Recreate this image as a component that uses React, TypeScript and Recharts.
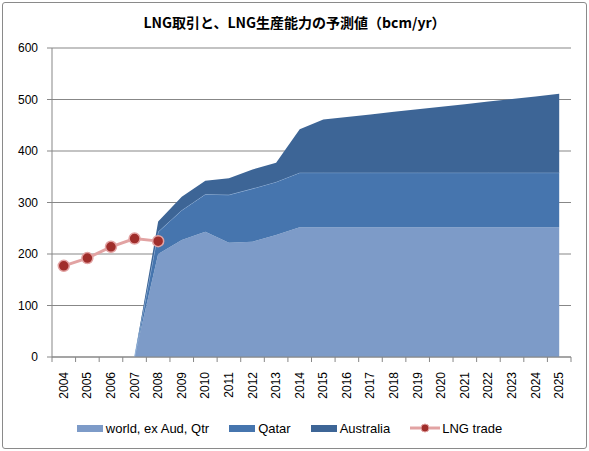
import React from "react";
import {
  ComposedChart,
  Area,
  Line,
  XAxis,
  YAxis,
  CartesianGrid,
  Legend,
} from "recharts";

const YEARS = [
  "2004", "2005", "2006", "2007", "2008", "2009", "2010", "2011", "2012", "2013", "2014",
  "2015", "2016", "2017", "2018", "2019", "2020", "2021", "2022", "2023", "2024", "2025",
];

// bcm/yr
const WORLD = [
  null, null, null, 0, 200, 227, 243, 222, 224, 237, 252,
  252, 252, 252, 252, 252, 252, 252, 252, 252, 252, 252,
];
const QATAR = [
  null, null, null, 0, 43, 58, 73, 93, 103, 103, 106,
  106, 106, 106, 106, 106, 106, 106, 106, 106, 106, 106,
];
const AUSTRALIA = [
  null, null, null, 0, 20, 26, 26, 32, 37, 37, 84,
  103, 108, 113, 118, 123, 128, 133, 138, 143, 148, 153,
];
const LNG_TRADE = [
  177, 192, 214, 230, 225, null, null, null, null, null, null,
  null, null, null, null, null, null, null, null, null, null, null,
];

const Y_TICKS = [0, 100, 200, 300, 400, 500, 600];

const data = YEARS.map((year, i) => ({
  year,
  world: WORLD[i],
  qatar: QATAR[i],
  australia: AUSTRALIA[i],
  trade: LNG_TRADE[i],
}));

// colours
const C_WORLD = "#7D9BC8";
const C_QATAR = "#4675AE";
const C_AUS = "#3D6596";
const C_LINE = "#E2A3A3";
const C_DOT = "#A02E2B";
const AXIS = "#878787";

const W = 589;
const H = 451;
const MARGIN = { top: 48, right: 18, left: 8, bottom: 13 };
const Y_W = 44;
const PLOT_W = W - MARGIN.left - Y_W - MARGIN.right;
const BAND = PLOT_W / YEARS.length;

const FONT = "'Liberation Sans', Arial, sans-serif";

// Excel style: tick marks between categories, vertical labels
const YearTick = (props: any) => {
  const { x, y, payload, index } = props;
  const half = BAND / 2;
  return (
    <g>
      <line x1={x - half} y1={y} x2={x - half} y2={y + 5} stroke={AXIS} />
      {index === YEARS.length - 1 && (
        <line x1={x + half} y1={y} x2={x + half} y2={y + 5} stroke={AXIS} />
      )}
      <text
        transform={`translate(${x},${y + 15}) rotate(-90)`}
        textAnchor="end"
        dominantBaseline="central"
        fontSize={12}
        fontFamily={FONT}
        fill="#000"
      >
        {payload.value}
      </text>
    </g>
  );
};

const LEGEND_ITEMS = [
  { label: "world, ex Aud, Qtr", color: C_WORLD, kind: "area" },
  { label: "Qatar", color: C_QATAR, kind: "area" },
  { label: "Australia", color: C_AUS, kind: "area" },
  { label: "LNG trade", color: C_LINE, kind: "line" },
];

const LegendBox = () => (
  <div
    style={{
      height: 20,
      display: "flex",
      alignItems: "center",
      justifyContent: "center",
      gap: 20,
      fontFamily: FONT,
      fontSize: 13,
      color: "#000",
    }}
  >
    {LEGEND_ITEMS.map((it) => (
      <span key={it.label} style={{ display: "flex", alignItems: "center" }}>
        {it.kind === "area" ? (
          <span style={{ width: 26, height: 7, background: it.color, marginRight: 3 }} />
        ) : (
          <svg width={30} height={12} style={{ marginRight: 2 }}>
            <line x1={0} y1={6} x2={30} y2={6} stroke={C_LINE} strokeWidth={3} />
            <circle cx={15} cy={6} r={4} fill={C_DOT} stroke={C_LINE} strokeWidth={1} />
          </svg>
        )}
        {it.label}
      </span>
    ))}
  </div>
);

export default function App() {
  return (
    <div style={{ position: "absolute", left: 0, top: 0, width: W, height: H, background: "#fff" }}>
      <div
        style={{
          position: "absolute",
          left: 2,
          top: 2,
          width: 585,
          height: 447,
          boxSizing: "border-box",
          border: "1px solid #8a8a8a",
          borderRadius: 3,
        }}
      />
      <div
        style={{
          position: "absolute",
          left: 0,
          top: 12,
          width: W,
          textAlign: "center",
          fontFamily: "'Noto Sans CJK JP', sans-serif",
          fontWeight: 700,
          fontSize: 14,
          lineHeight: "20px",
          color: "#000",
        }}
      >
        LNG取引と、LNG生産能力の予測値（bcm/yr）
      </div>
      <ComposedChart width={W} height={H} data={data} margin={MARGIN}>
        <CartesianGrid vertical={false} stroke={AXIS} strokeWidth={1} />
        <XAxis
          dataKey="year"
          scale="band"
          interval={0}
          height={61}
          stroke={AXIS}
          tickLine={false}
          tickSize={0}
          tickMargin={0}
          tick={<YearTick />}
        />
        <YAxis
          domain={[0, 600]}
          ticks={Y_TICKS}
          width={Y_W}
          stroke={AXIS}
          tickSize={5}
          tickMargin={9}
          tick={{ fill: "#000", fontSize: 12, fontFamily: FONT }}
        />
        <Legend verticalAlign="bottom" content={<LegendBox />} />
        <Area
          dataKey="world"
          stackId="cap"
          fill={C_WORLD}
          fillOpacity={1}
          stroke="none"
          isAnimationActive={false}
        />
        <Area
          dataKey="qatar"
          stackId="cap"
          fill={C_QATAR}
          fillOpacity={1}
          stroke="#9DBBE0"
          strokeWidth={1}
          isAnimationActive={false}
        />
        <Area
          dataKey="australia"
          stackId="cap"
          fill={C_AUS}
          fillOpacity={1}
          stroke="none"
          isAnimationActive={false}
        />
        <Line
          dataKey="trade"
          stroke={C_LINE}
          strokeWidth={3}
          dot={{ r: 5.5, fill: C_DOT, stroke: C_LINE, strokeWidth: 1.5 }}
          activeDot={false}
          isAnimationActive={false}
        />
      </ComposedChart>
    </div>
  );
}
